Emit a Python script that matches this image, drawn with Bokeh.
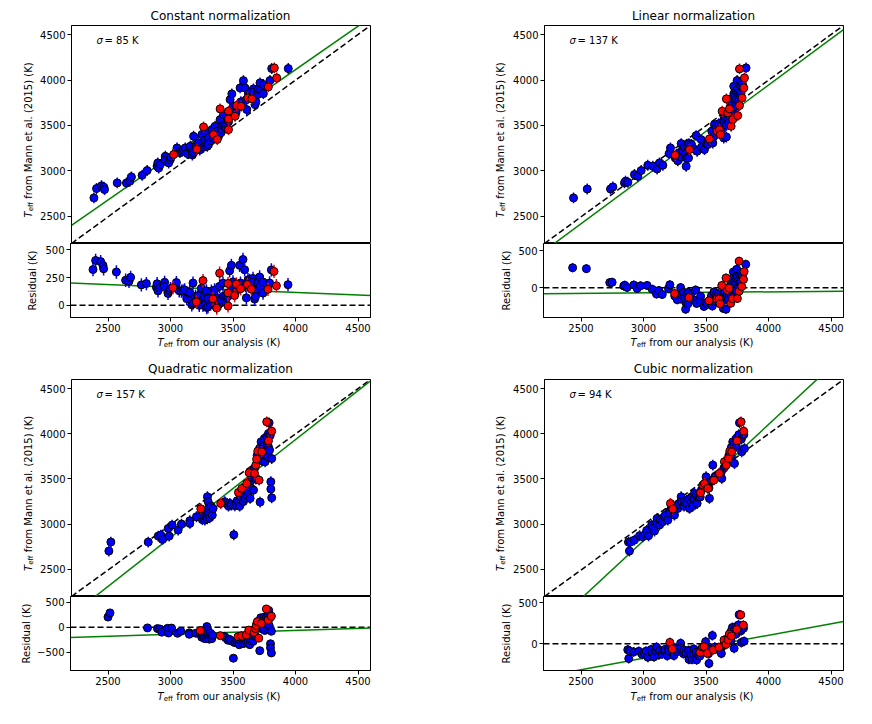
import numpy as np
from bokeh.plotting import figure
from bokeh.models import Range1d, FixedTicker, Label, ColumnDataSource
from bokeh.layouts import column, row
from bokeh.embed import file_html
from bokeh.resources import INLINE

FONT = "DejaVu Sans"

titles = ["Constant normalization", "Linear normalization",
          "Quadratic normalization", "Cubic normalization"]
sigmas = ["85", "137", "157", "94"]

# Teff from our analysis (x) and from Mann et al. 2015 (y)
const_blue_x = [2380,2401,2441,2460,2465,2567,2641,2668,2681,2767,2807,2887,2893,2900,2913,2953,2950,2980,2993,3000,3040,3047,3070,3087,3100,3113,3130,3150,3153,3167,3170,3180,3180,3200,3220,3230,3230,3247,3260,3260,3273,3280,3287,3290,3300,3300,3320,3327,3340,3350,3353,3370,3380,3393,3400,3407,3420,3420,3433,3440,3450,3460,3473,3480,3487,3500,3500,3520,3540,3553,3560,3580,3593,3600,3607,3620,3633,3640,3660,3660,3673,3680,3695,3700,3713,3720,3740,3740,3793,3807,3940]
const_blue_y = [2702,2805,2835,2819,2794,2867,2867,2885,2933,2951,3003,3050,3087,3030,3070,3160,3120,3087,3124,3150,3210,3252,3200,3215,3230,3252,3190,3250,3270,3216,3175,3380,3200,3280,3307,3260,3230,3400,3260,3320,3344,3290,3417,3270,3289,3360,3330,3454,3360,3400,3491,3440,3380,3564,3420,3454,3619,3500,3509,3470,3520,3540,3784,3600,3847,3711,3650,3640,3700,3913,3760,3993,3913,3780,3674,3850,3858,3820,3902,3870,3729,3760,3840,3900,3968,3890,3950,3850,3994,4126,4126]
const_red_x = [3020,3207,3260,3340,3370,3393,3460,3460,3460,3513,3527,3561,3615,3647,3780,3828,3847]
const_red_y = [3179,3237,3483,3399,3345,3682,3656,3572,3454,3601,3719,3711,3803,3792,3924,4133,4023]

lin_blue_x = [2433,2543,2730,2749,2842,2850,2869,2922,2949,2976,3029,3070,3104,3123,3150,3200,3211,3250,3270,3270,3280,3297,3300,3310,3320,3330,3337,3340,3350,3356,3360,3380,3400,3417,3425,3457,3460,3484,3500,3511,3540,3543,3551,3560,3564,3580,3600,3620,3620,3639,3640,3644,3650,3660,3660,3670,3680,3680,3690,3700,3700,3710,3719,3720,3720,3725,3730,3737,3740,3740,3746,3750,3760,3760,3770,3770,3778,3780,3790,3818]
lin_blue_y = [2702,2800,2800,2823,2867,2885,2874,2959,2940,3003,3061,3050,3021,3087,3061,3190,3252,3140,3124,3110,3200,3300,3150,3216,3260,3190,3050,3140,3271,3142,3300,3290,3240,3388,3216,3344,3260,3234,3300,3289,3320,3436,3307,3380,3509,3480,3520,3500,3440,3362,3550,3583,3600,3373,3500,3580,3620,3530,3700,3760,3600,3800,3931,3850,3640,3719,3820,3784,3880,3700,3994,3900,3860,3780,3950,3840,3858,3980,3950,4133]
lin_red_x = [3249,3364,3524,3586,3604,3612,3626,3660,3671,3685,3698,3711,3751,3765,3765,3786,3800,3805]
lin_red_y = [3172,3234,3351,3436,3454,3399,3656,3792,3638,3682,3491,3564,3608,4122,3719,3803,3913,4023]

quad_blue_x = [2500,2516,2816,2896,2917,2930,2976,2984,3008,3056,3083,3150,3150,3203,3240,3250,3260,3260,3270,3280,3290,3291,3297,3300,3300,3310,3320,3324,3330,3337,3430,3440,3460,3471,3484,3503,3511,3520,3530,3545,3550,3560,3580,3580,3594,3600,3610,3620,3620,3634,3640,3640,3650,3660,3661,3670,3680,3690,3700,3710,3714,3720,3722,3730,3740,3741,3750,3754,3760,3767,3770,3775,3780,3781,3786,3790,3795,3800,3800,3807,3807]
quad_blue_y = [2703,2802,2802,2868,2879,2831,2953,2868,2990,2935,3001,3038,3008,3082,3100,3050,3120,3080,3045,3080,3060,3303,3248,3120,3180,3071,3200,3137,3100,3174,3248,3230,3200,3229,3211,2883,3204,3220,3260,3248,3200,3300,3330,3250,3285,3380,3320,3420,3350,3285,3480,3400,3520,3600,3377,3620,3500,3760,3700,3840,3244,3780,3911,3700,3880,3855,3950,3690,3820,3966,3870,3745,3860,4002,4121,3820,3980,3469,3388,3292,3726]
quad_red_x = [3238,3398,3540,3567,3607,3626,3669,3679,3687,3695,3706,3727,3767,3781,3807]
quad_red_y = [3170,3229,3351,3395,3450,3568,3561,3653,3719,3807,3487,3800,4132,3922,4028]

cub_blue_x = [2874,2890,2882,2922,2963,2989,3008,3020,3035,3060,3070,3083,3100,3104,3123,3130,3150,3163,3170,3190,3200,3203,3220,3240,3243,3250,3270,3280,3297,3300,3320,3323,3340,3360,3364,3377,3380,3390,3400,3404,3420,3425,3440,3450,3460,3480,3497,3500,3520,3520,3524,3540,3551,3560,3570,3580,3600,3620,3623,3640,3650,3660,3680,3700,3700,3711,3720,3725,3740,3740,3760,3765,3780,3783,3800,3805]
cub_blue_y = [2802,2802,2703,2824,2872,2861,2887,2930,2872,2990,2953,2924,3020,3064,2990,3050,3027,3082,3100,3045,3140,3119,3180,3150,3100,3200,3174,3220,3303,3250,3200,3248,3230,3280,3174,3248,3300,3200,3280,3340,3320,3229,3300,3300,3380,3400,3524,3430,3460,3400,3285,3480,3653,3500,3530,3520,3540,3580,3506,3620,3640,3700,3760,3850,3740,3911,3880,3671,3950,3860,3990,4121,3940,3800,3990,3836]
cub_red_x = [3211,3230,3452,3471,3484,3511,3559,3604,3644,3660,3677,3687,3703,3746,3778,3799]
cub_red_y = [3229,3167,3347,3432,3450,3395,3487,3561,3690,3653,3727,3807,3800,3922,4132,4028]

mann_err = 60  # K, uncertainty of Mann et al. values

# residual of fitted line at x=2200 and x=4600 (K)
fit_res_left = [200, -80, -205, -400]
fit_res_right = [88, -45, -15, 273]
x_span = [2200, 4600]

res_ranges = [(-110, 557), (-398, 594), (-866, 614), (-325, 578)]
res_ticks = [[0, 250, 500], [0, 500], [-500, 0, 500], [0, 500]]
teff_ticks = [2500, 3000, 3500, 4000, 4500]

blue_sets = [(const_blue_x, const_blue_y), (lin_blue_x, lin_blue_y),
             (quad_blue_x, quad_blue_y), (cub_blue_x, cub_blue_y)]
red_sets = [(const_red_x, const_red_y), (lin_red_x, lin_red_y),
            (quad_red_x, quad_red_y), (cub_red_x, cub_red_y)]


def style_axis(ax, ticks):
    ax.ticker = FixedTicker(ticks=ticks)
    ax.axis_line_color = "black"
    ax.major_tick_line_color = "black"
    ax.major_tick_out = 4
    ax.major_tick_in = 0
    ax.minor_tick_line_color = None
    ax.major_label_text_font = FONT
    ax.major_label_text_font_size = "10px"
    ax.major_label_text_color = "black"
    ax.major_label_standoff = 2
    ax.major_label_overrides = {t: ("\u2212" + str(-t) if t < 0 else str(t)) for t in ticks}


def lab(p, x, y, text, size=10, angle=0.0, align="left", baseline="middle", style="normal"):
    p.add_layout(Label(x=x, y=y, x_units="screen", y_units="screen", text=text,
                       text_font=FONT, text_font_size=f"{size}px", text_color="black",
                       angle=angle, text_align=align, text_baseline=baseline,
                       text_font_style=style))


def teff_label(p, x0, y0, rest, vertical):
    # T_eff + rest, starting at (x0,y0)
    if vertical:
        a = np.pi / 2
        lab(p, x0, y0, "T", 10, a, "left", "middle", "italic")
        lab(p, x0 + 2.5, y0 + 6.3, "eff", 7, a, "left", "middle")
        lab(p, x0, y0 + 18.8, rest, 10, a, "left", "middle")
    else:
        lab(p, x0, y0, "T", 10, 0, "left", "middle", "italic")
        lab(p, x0 + 6.3, y0 - 2.5, "eff", 7, 0, "left", "middle")
        lab(p, x0 + 18.8, y0, rest, 10, 0, "left", "middle")


def text_fig(w, h):
    f = figure(width=w, height=h, x_range=Range1d(0, 1), y_range=Range1d(0, 1),
               x_axis_type=None, y_axis_type=None, output_backend="svg",
               toolbar_location=None, min_border=0)
    f.grid.visible = False
    f.outline_line_color = None
    return f


def frame_style(p):
    p.grid.visible = False
    p.outline_line_color = "black"
    p.outline_line_width = 1
    p.background_fill_color = "white"
    p.border_fill_color = "white"


def make_panel(i, left_col, top_h, main_h, xlab_y, title_y):
    WQ = 436 if left_col else 434      # quadrant width
    ylw = 37 if left_col else 74       # y-label strip width
    fl_left = ylw + 33                 # frame left inside quadrant
    br = WQ - fl_left - 300
    xr = Range1d(2200, 4600)

    main = figure(width=WQ - ylw, height=main_h, x_range=xr, y_range=Range1d(2200, 4600),
                  output_backend="svg", toolbar_location=None,
                  min_border_left=33, min_border_right=br, min_border_top=0, min_border_bottom=0)
    res = figure(width=WQ, height=74 + 20, x_range=xr, y_range=Range1d(*res_ranges[i]),
                 output_backend="svg", toolbar_location=None,
                 min_border_left=fl_left, min_border_right=br, min_border_top=0, min_border_bottom=20)
    frame_style(main)
    frame_style(res)
    main.xaxis.visible = False
    style_axis(main.yaxis[0], teff_ticks)
    style_axis(res.yaxis[0], res_ticks[i])
    style_axis(res.xaxis[0], teff_ticks)
    ya = res.yaxis[0]
    ya.axis_label = "Residual (K)"
    ya.axis_label_text_font = FONT
    ya.axis_label_text_font_size = "10px"
    ya.axis_label_text_font_style = "normal"
    ya.axis_label_text_color = "black"
    ya.axis_label_standoff = [4, 3, 2, 3][i]

    # reference lines
    main.line(x_span, x_span, line_color="black", line_width=1.5, line_dash="6 3")
    res.line(x_span, [0, 0], line_color="black", line_width=1.5, line_dash="6 3")
    fl = [x_span[0] + fit_res_left[i], x_span[1] + fit_res_right[i]]
    main.line(x_span, fl, line_color="#008000", line_width=1.5)
    res.line(x_span, [fit_res_left[i], fit_res_right[i]], line_color="#008000", line_width=1.5)

    for (xs, ys), col in ((blue_sets[i], "#0000ff"), (red_sets[i], "#ff0000")):
        xs = np.array(xs, float)
        ys = np.array(ys, float)
        src = ColumnDataSource(dict(x=xs, y=ys, lo=ys - mann_err, hi=ys + mann_err,
                                    r=ys - xs, rlo=ys - xs - mann_err, rhi=ys - xs + mann_err))
        main.segment("x", "lo", "x", "hi", source=src, line_color=col, line_width=1.5)
        main.scatter("x", "y", source=src, size=8, fill_color=col, line_color="black", line_width=1)
        res.segment("x", "rlo", "x", "rhi", source=src, line_color=col, line_width=1.5)
        res.scatter("x", "r", source=src, size=8, fill_color=col, line_color="black", line_width=1)

    # sigma text inside the frame
    lab(main, 25, main_h - 15, "\u03c3", 10, 0, "left", "middle", "italic")
    lab(main, 33, main_h - 15, "= " + sigmas[i] + " K", 10, 0, "left", "middle")

    # title strip (its frame is aligned with the panel frames)
    tf = text_fig(WQ, top_h)
    lab(tf, 150, title_y, titles[i], 12, 0, "center", "middle")
    # x label strip (frame aligned with the panel frames)
    xf = text_fig(WQ, 25)
    teff_label(xf, 87, xlab_y, "from our analysis (K)", False)
    # y label strip for the main panel
    yf = text_fig(ylw, main_h)
    mx = 27.5 if left_col else 63.5
    teff_label(yf, mx, main_h / 2 - 83, "from Mann et al. (2015) (K)", True)
    return column(tf, row(yf, main), res, xf)


layout = column(row(make_panel(0, True, 25, 218, 20, 9.3), make_panel(1, False, 25, 218, 20, 9.3)),
                row(make_panel(2, True, 17, 217, 19, 10.3), make_panel(3, False, 17, 217, 19, 10.3)))

open("out.html", "w").write(file_html(layout, INLINE))
